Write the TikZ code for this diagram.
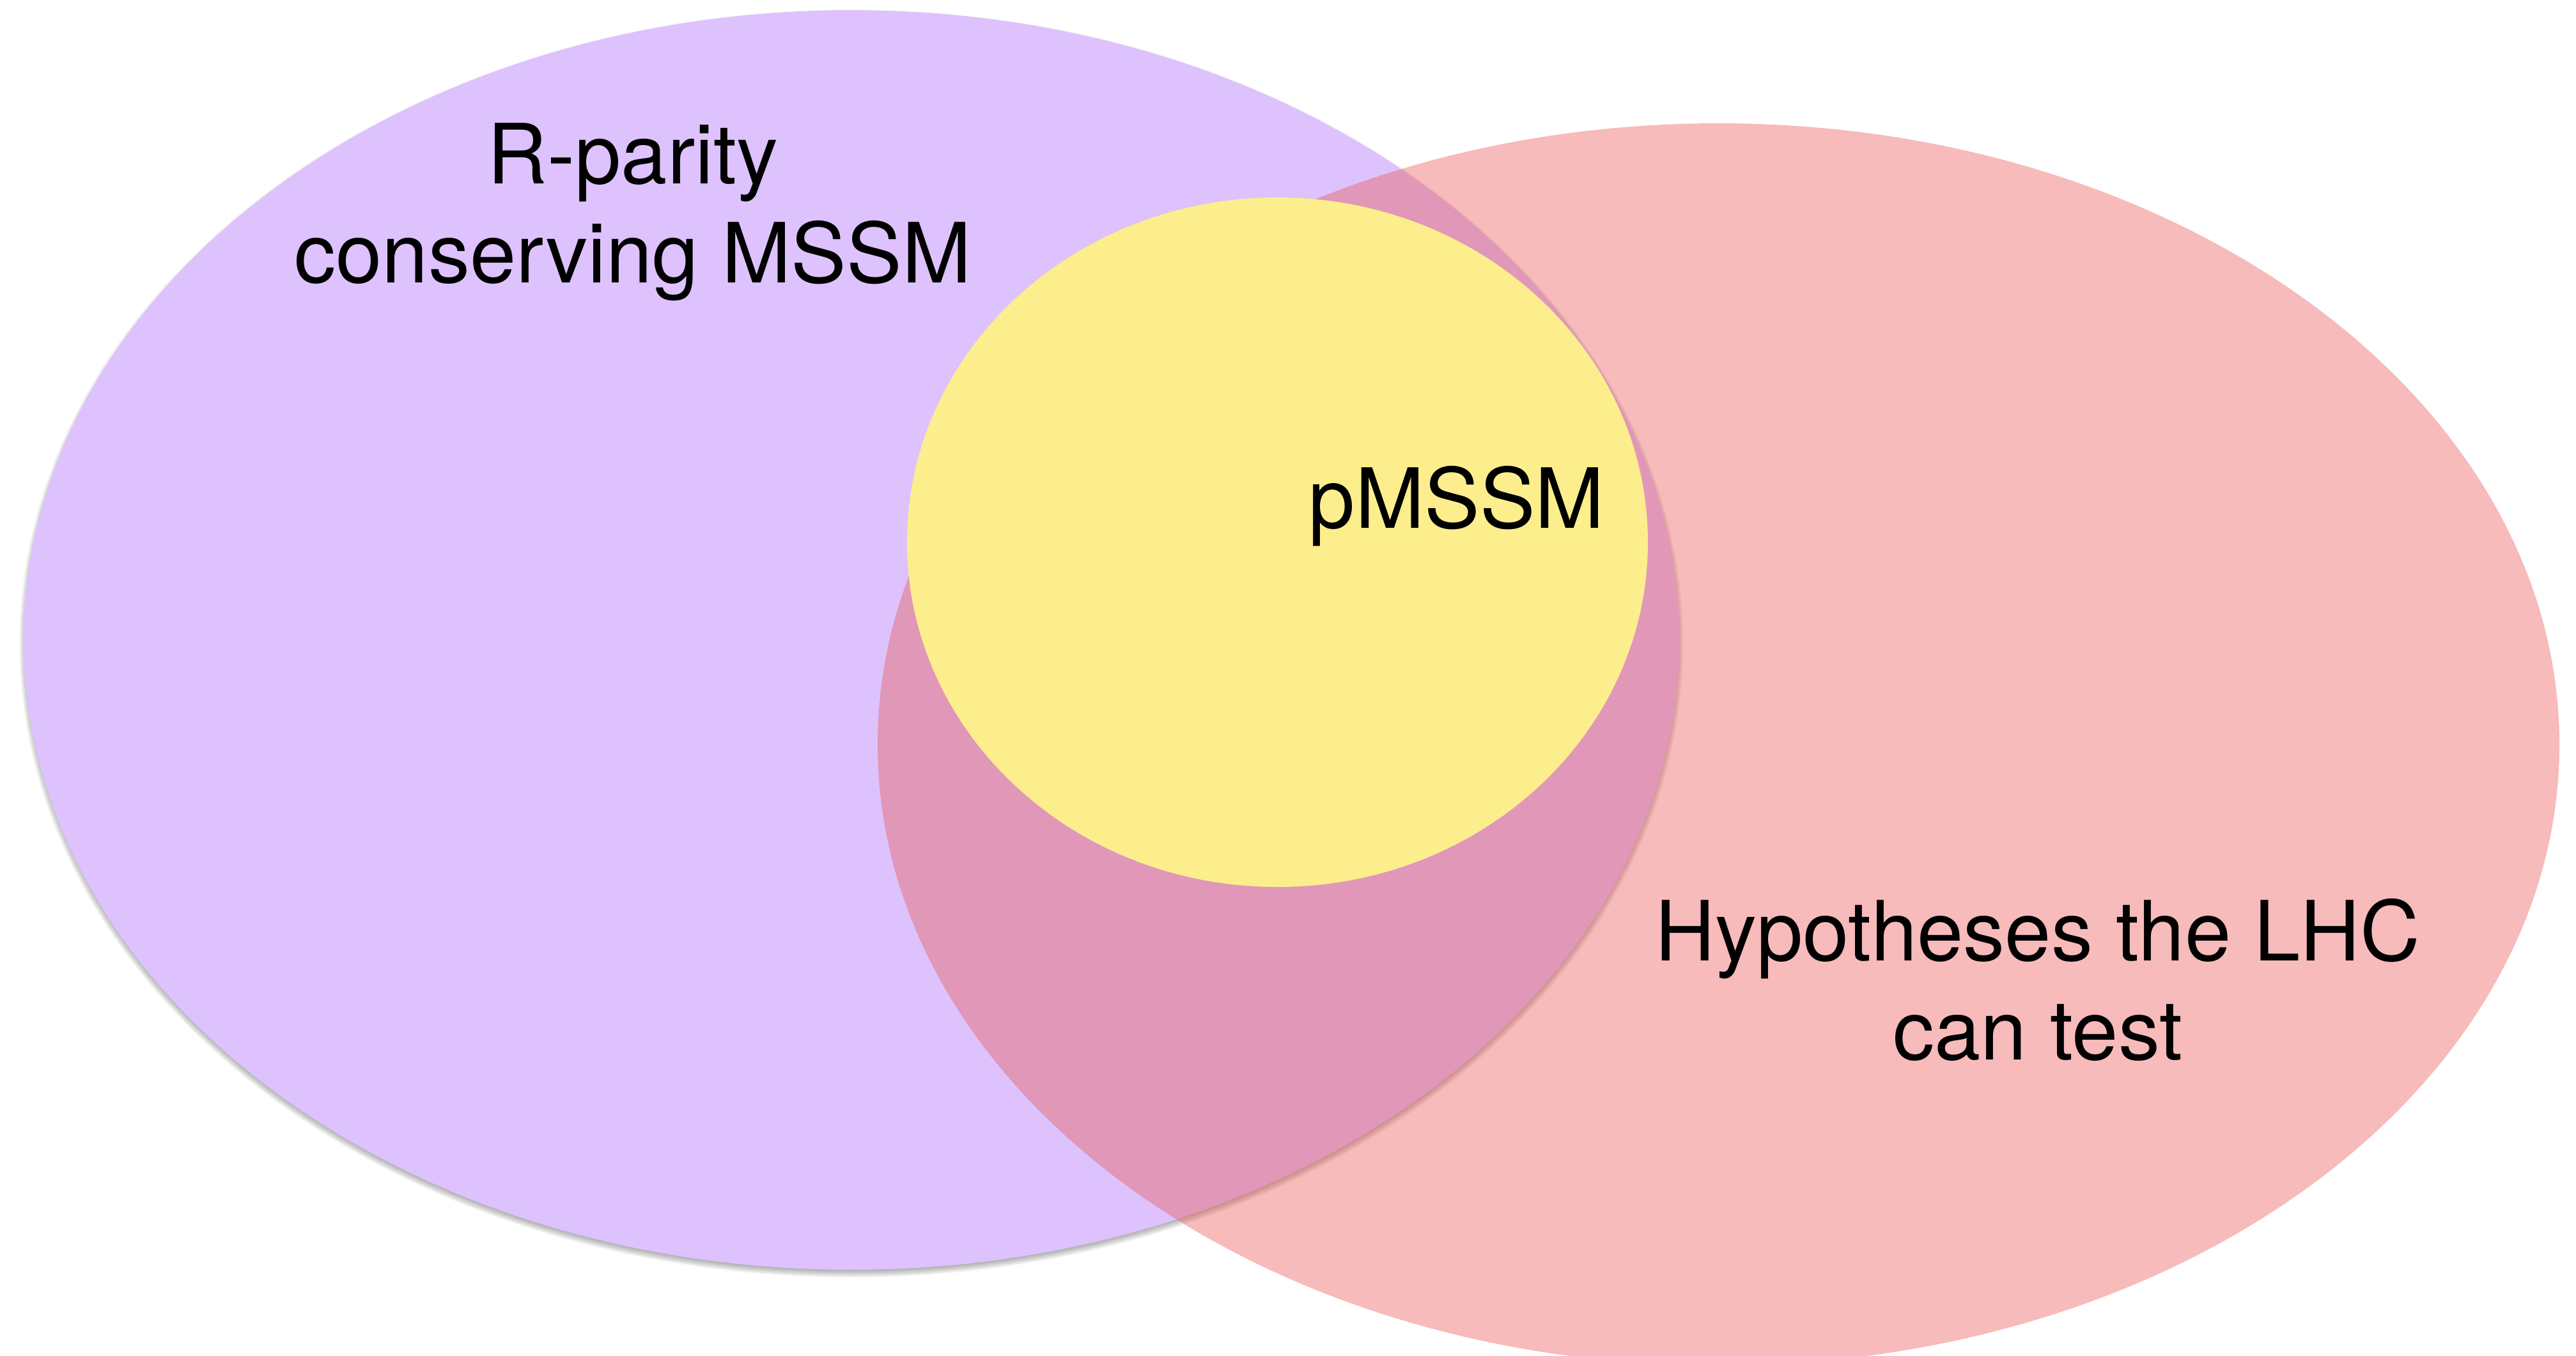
\documentclass[tikz,border=0pt]{standalone}
\usepackage{fontspec}
\setmainfont{TeX Gyre Heros}
\definecolor{setpurple}{RGB}{221,194,253}
\definecolor{setpink}{RGB}{233,90,87}
\definecolor{setyellow}{RGB}{252,238,141}
\begin{document}
\begin{tikzpicture}[
  lbl/.style={font=\fontsize{37}{44}\selectfont, inner sep=0pt, align=center, text=black}
]
\useasboundingbox (0,0) rectangle (40.30,-21.21);
% shadow of the purple set
\foreach \k in {0,1,...,7}{
  \fill[black, opacity=0.045] (13.32,-10.07) ellipse [x radius={12.95cm+\k*0.015cm-0.04cm}, y radius={9.855cm+\k*0.015cm-0.04cm}];
}
% purple set
\fill[setpurple] (13.32,-10.015) ellipse [x radius=12.95cm, y radius=9.855cm];
% pink set
\fill[setpink, opacity=0.41] (26.885,-11.65) ellipse [x radius=13.155cm, y radius=9.72cm];
% yellow set
\fill[setyellow] (19.985,-8.485) ellipse [x radius=5.795cm, y radius=5.395cm];
% labels (base anchor = baseline of the last line)
\node[lbl, anchor=base] (rparity) at (9.90,-4.42) {R-parity\\conserving MSSM};
\node[lbl, anchor=base] (pmssm) at (22.79,-8.26) {pMSSM};
\node[lbl, anchor=base] (lhc) at (31.88,-16.58) {Hypotheses the LHC\\can test};
\end{tikzpicture}
\end{document}
